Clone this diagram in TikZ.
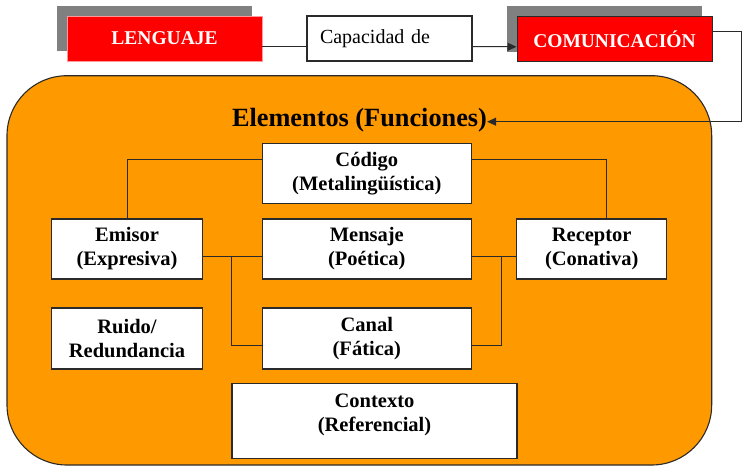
\documentclass[tikz,border=0pt]{standalone}
\usepackage{fontspec}
\setmainfont{Liberation Serif}
\usetikzlibrary{arrows.meta}
\definecolor{orangebg}{HTML}{FF9900}
\definecolor{redbox}{HTML}{FF0000}
\definecolor{shadowgrey}{HTML}{808080}
\definecolor{linedark}{HTML}{2A2A2A}
\tikzset{
  wbox/.style={draw=linedark, line width=1.1pt, fill=white, align=center, inner sep=0pt,
    font=\fontsize{20.5}{24}\selectfont\bfseries},
  redlabel/.style={fill=redbox, inner sep=0pt, text=white,
    font=\fontsize{19.5}{23}\selectfont\bfseries, minimum width=195pt, minimum height=45pt},
  shadowrect/.style={fill=shadowgrey, draw=none},
  conn/.style={draw=linedark, line width=1pt},
  arrowconn/.style={conn, -{Triangle[length=9pt,width=8pt]}},
}
\begin{document}
\begin{tikzpicture}[x=1pt,y=-1pt]
\useasboundingbox (0,0) rectangle (750,472);
% outer orange panel
\draw[fill=orangebg, draw=linedark, line width=1.1pt, rounded corners=60pt] (7,75.7) rectangle (711.7,465);
% top row
\fill[shadowrect] (57,6) rectangle (252,51);
\node[redlabel, draw=redbox!40, line width=0.8pt] (lenguaje) at (164.5,38.5) {LENGUAJE};
\node[draw=linedark, line width=1.1pt, fill=white, inner xsep=13pt, inner ysep=0pt,
  text width=139pt, align=left, minimum height=45pt,
  font=\fontsize{20}{24}\selectfont] (capacidad) at (389.5,38.5) {Capacidad de};
\fill[shadowrect] (507,6) rectangle (702,51.5);
\node[redlabel, draw=linedark, line width=1pt] (comunicacion) at (614.5,38.8) {COMUNICACIÓN};
% title
\node[anchor=base, inner sep=0pt, font=\fontsize{26.3}{30}\selectfont\bfseries] (title) at (359.5,126.7) {Elementos (Funciones)};
% element boxes
\node[wbox, minimum width=209pt, minimum height=60pt] (code) at (366.8,173.3) {Código\\(Metalingüística)};
\node[wbox, minimum width=150.5pt, minimum height=60pt] (emisor) at (127,249) {Emisor\\(Expresiva)};
\node[wbox, minimum width=209pt, minimum height=60pt] (mensaje) at (366.8,249) {Mensaje\\(Poética)};
\node[wbox, minimum width=150pt, minimum height=60pt] (receptor) at (591.7,249) {Receptor\\(Conativa)};
\node[wbox, minimum width=150.5pt, minimum height=61pt] (ruido) at (127,338.5) {Ruido/\\Redundancia};
\node[wbox, minimum width=209pt, minimum height=61pt] (canal) at (366.8,338.5) {Canal\\(Fática)};
\node[wbox, minimum width=285pt, minimum height=75pt] (contexto) at (374.5,420.8) {};
\node[align=center, inner sep=0pt, font=\fontsize{20.5}{24}\selectfont\bfseries] (contextotext) at ([yshift=6pt]contexto.center) {Contexto\\(Referencial)};
% top connectors
\draw[conn] ([yshift=-8pt]lenguaje.east) -- ([yshift=-8pt]capacidad.west);
\draw[arrowconn] ([yshift=-8pt]capacidad.east) -- ([yshift=-8pt]comunicacion.west);
\coordinate (bend) at (741,121.7);
\draw[arrowconn] ([yshift=7pt]comunicacion.east) -| (bend) -- (title.east |- bend);
% element connectors
\draw[conn] ([yshift=14pt]code.west) -| (emisor.north);
\draw[conn] ([yshift=14pt]code.east) -| ([xshift=14.5pt]receptor.north);
\draw[conn] ([yshift=-7pt]emisor.east) -- ([yshift=-7pt]mensaje.west);
\draw[conn] ([yshift=-7pt]mensaje.east) -- ([yshift=-7pt]receptor.west);
\coordinate (jleft) at (231.7,256);
\coordinate (jright) at (501.7,256);
\draw[conn] (jleft) |- ([yshift=-6.5pt]canal.west);
\draw[conn] (jright) |- ([yshift=-6.5pt]canal.east);
\end{tikzpicture}
\end{document}
